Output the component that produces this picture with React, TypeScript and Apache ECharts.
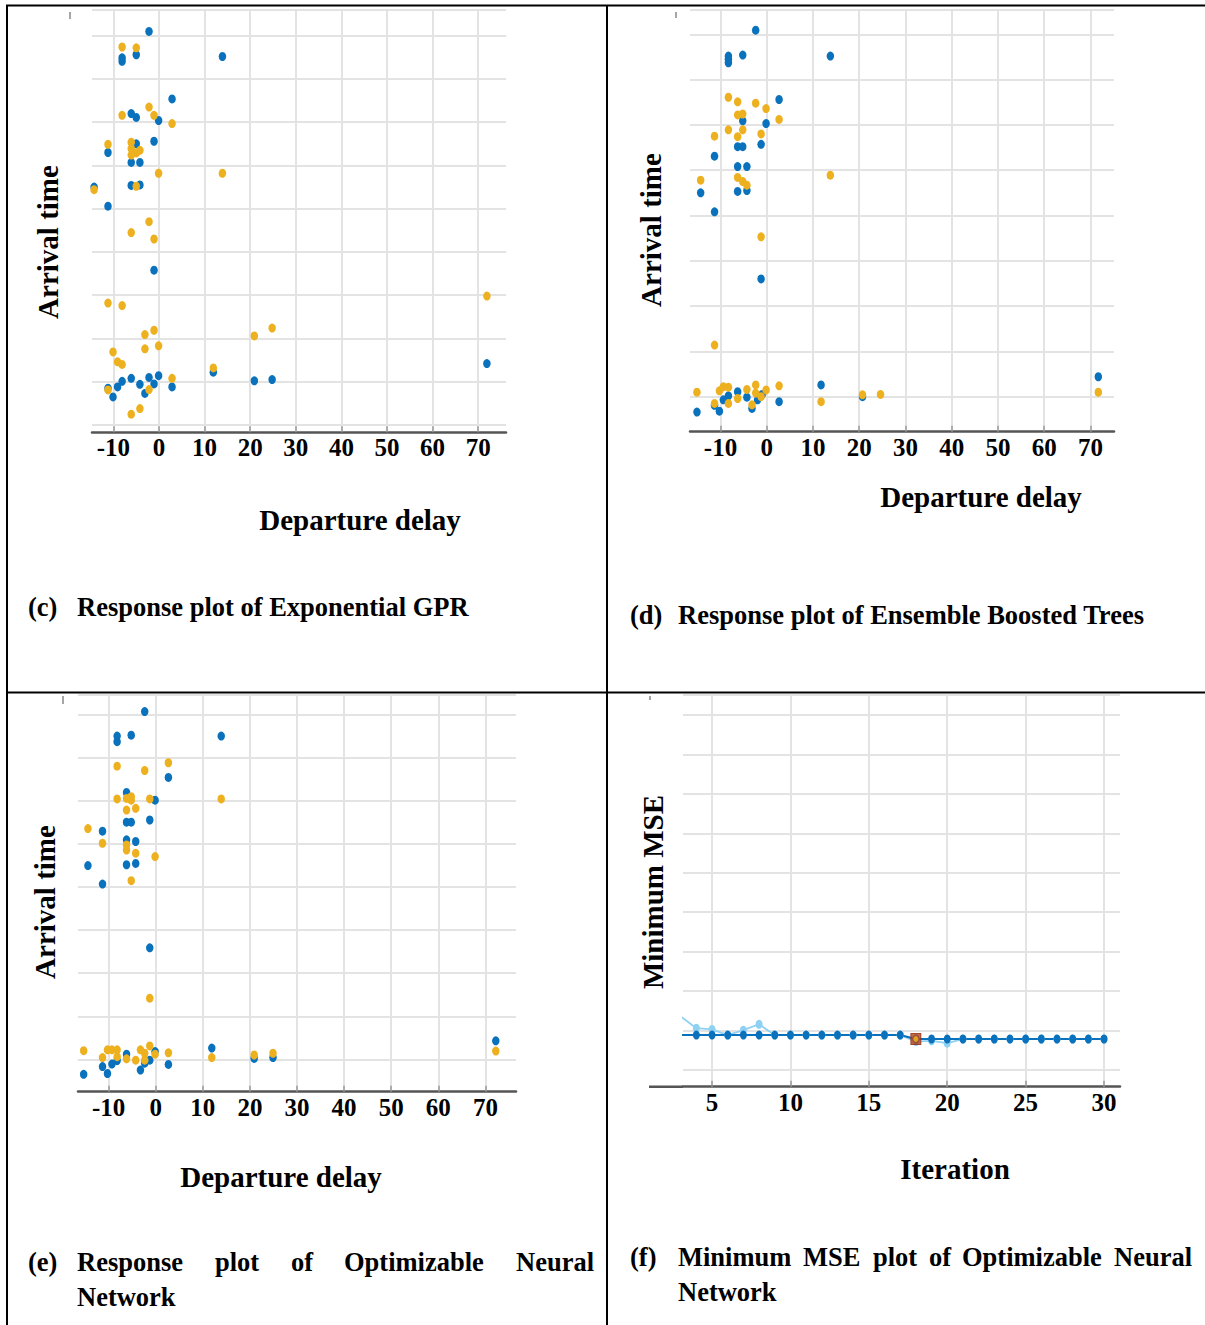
import React, { useEffect, useRef } from "react";
import * as echarts from "echarts";

// ---------------- DATA ----------------
// x tick labels (departure delay) and iteration ticks
const delayTicks = [-10, 0, 10, 20, 30, 40, 50, 60, 70];
const iterTicks = [5, 10, 15, 20, 25, 30];

// (c) Exponential GPR: [departure delay, arrival time (grid units)]
const gprTrue: number[][] = [
  [-2.2, 9.1], [-8.1, 8.49], [-8.1, 8.41], [-5.0, 8.56], [13.9, 8.52], [2.85, 7.54],
  [-6.1, 7.2], [-5.0, 7.11], [-0.1, 7.04], [-11.2, 6.3], [-5.0, 6.5], [-1.1, 6.56],
  [-6.1, 6.07], [-4.2, 6.07], [-14.25, 5.5], [-6.1, 5.54], [-4.2, 5.55], [-11.2, 5.06],
  [-1.1, 3.58], [11.9, 1.22], [71.9, 1.42], [20.9, 1.02], [24.8, 1.05], [-8.1, 1.01],
  [-9.1, 0.88], [-10.1, 0.65], [-11.2, 0.85], [-6.1, 1.08], [-4.2, 0.94], [-3.1, 0.73],
  [-2.2, 1.1], [-1.1, 0.95], [-0.1, 1.14], [2.85, 0.88], [-14.8, 0.64],
];
const gprPred: number[][] = [
  [-8.1, 8.74], [-5.0, 8.72], [-2.2, 7.35], [-8.1, 7.16], [-1.1, 7.16], [2.85, 6.97],
  [-11.2, 6.49], [-6.1, 6.54], [-6.1, 6.39], [-4.2, 6.35], [-5.0, 6.29], [-6.1, 6.24],
  [-0.1, 5.82], [13.9, 5.82], [-14.25, 5.44], [-5.0, 5.52], [-2.2, 4.7], [-6.1, 4.45],
  [-1.1, 4.3], [-11.2, 2.82], [-8.1, 2.76], [71.9, 2.98], [-1.1, 2.19], [-3.1, 2.09],
  [-3.1, 1.76], [-0.1, 1.83], [20.9, 2.06], [24.8, 2.24], [-10.1, 1.69], [-9.1, 1.46],
  [-8.1, 1.4], [-14.8, 1.37], [11.9, 1.32], [2.85, 1.08], [-2.2, 0.82], [-11.2, 0.81],
  [-6.1, 0.25], [-4.2, 0.38],
];

// (d) Ensemble Boosted Trees
const ebtTrue: number[][] = [
  [-2.4, 8.09], [-8.3, 7.52], [-8.3, 7.45], [-8.3, 7.37], [-5.2, 7.54], [13.75, 7.52],
  [2.66, 6.56], [-5.2, 6.09], [-0.15, 6.03], [-1.23, 5.57], [-6.3, 5.52], [-5.2, 5.52],
  [-11.3, 5.31], [-6.3, 5.08], [-4.3, 5.08], [-14.3, 4.5], [-6.3, 4.53], [-4.3, 4.55],
  [-11.3, 4.08], [-1.23, 2.6], [71.7, 0.44], [11.74, 0.26], [20.7, 0.0], [2.66, -0.11],
  [-15.1, -0.34], [-11.3, -0.19], [-10.25, -0.32], [-9.4, -0.07], [-8.3, 0.02], [-6.3, 0.11],
  [-4.3, -0.01], [-3.2, -0.26], [-2.0, -0.07], [-1.0, 0.05],
];
const ebtPred: number[][] = [
  [-8.3, 6.61], [-6.3, 6.51], [-2.4, 6.48], [-0.15, 6.36], [-6.3, 6.22], [-5.2, 6.24],
  [2.66, 6.12], [-8.3, 5.89], [-5.2, 5.89], [-6.3, 5.74], [-1.23, 5.8], [-11.3, 5.75],
  [-14.3, 4.78], [-6.3, 4.84], [-5.2, 4.75], [-4.3, 4.67], [13.75, 4.89], [-1.23, 3.53],
  [-11.3, 1.14], [71.7, 0.1], [11.74, -0.11], [20.7, 0.04], [24.6, 0.05], [2.66, 0.24],
  [-15.1, 0.1], [-11.3, -0.15], [-10.25, 0.13], [-9.4, 0.22], [-8.3, 0.21], [-8.3, -0.15],
  [-6.3, -0.04], [-4.3, 0.16], [-3.2, -0.18], [-2.4, 0.26], [-2.4, 0.08], [-1.23, 0.0],
  [-0.15, 0.15],
];

// (e) Optimizable Neural Network
const nnTrue: number[][] = [
  [-2.34, 8.08], [-8.2, 7.51], [-8.2, 7.38], [-5.2, 7.53], [13.9, 7.51], [2.69, 6.55],
  [-6.2, 6.2], [-0.14, 6.02], [-6.2, 5.51], [-5.2, 5.51], [-1.27, 5.56], [-11.3, 5.3],
  [-6.2, 5.1], [-4.25, 5.06], [-14.4, 4.5], [-6.2, 4.52], [-4.25, 4.55], [-11.3, 4.07],
  [-1.27, 2.59], [72.2, 0.43], [11.9, 0.26], [20.9, 0.02], [24.9, 0.04], [2.69, -0.12],
  [-15.3, -0.35], [-11.3, -0.17], [-10.25, -0.33], [-9.3, -0.11], [-8.2, -0.03], [-6.2, 0.12],
  [-3.25, -0.25], [-2.34, -0.09], [-1.27, -0.02], [-0.14, 0.18],
];
const nnPred: number[][] = [
  [2.69, 6.89], [-8.2, 6.81], [-2.34, 6.71], [-8.2, 6.05], [-6.2, 6.06], [-5.2, 6.1],
  [-5.2, 6.02], [-1.27, 6.05], [13.9, 6.05], [-6.2, 5.79], [-4.25, 5.83], [-14.4, 5.36],
  [-11.3, 5.02], [-6.2, 4.98], [-6.2, 4.86], [-4.25, 4.79], [-0.14, 4.71], [-5.2, 4.15],
  [-1.27, 1.42], [72.2, 0.19], [11.9, 0.04], [20.9, 0.1], [24.9, 0.14], [2.69, 0.15],
  [-15.3, 0.2], [-11.3, 0.04], [-10.25, 0.22], [-9.3, 0.22], [-8.2, 0.22], [-8.2, 0.06],
  [-6.2, 0.01], [-4.25, -0.02], [-3.25, 0.22], [-2.34, 0.14], [-2.34, -0.02], [-1.27, 0.31],
  [-0.14, 0.12],
];

// (f) Minimum MSE plot
const iterations = [3, 4, 5, 6, 7, 8, 9, 10, 11, 12, 13, 14, 15, 16, 17, 18, 19, 20, 21, 22, 23, 24, 25, 26, 27, 28, 29, 30];
const minObservedMSE = [
  0.887, 0.887, 0.887, 0.887, 0.887, 0.887, 0.887, 0.887, 0.887, 0.887, 0.887, 0.887, 0.887, 0.887, 0.887,
  0.786, 0.786, 0.786, 0.786, 0.786, 0.786, 0.786, 0.786, 0.786, 0.786, 0.786, 0.786, 0.786,
];
const estimatedMinMSE = [
  1.36, 1.06, 1.03, 0.887, 1.01, 1.16, 0.887, 0.887, 0.887, 0.887, 0.887, 0.887, 0.887, 0.887, 0.887,
  0.72, 0.74, 0.68, 0.786, 0.786, 0.786, 0.786, 0.786, 0.786, 0.786, 0.786, 0.786, 0.786,
];
const bestIteration = [18];
const bestMSE = [0.786];

// ---------------- STYLE ----------------
const SERIF = "'Liberation Serif', 'Times New Roman', Times, serif";
const BLUE = "#0a72bd";
const ORANGE = "#edb120";
const LIGHTBLUE = "#8fd1f3";
const GRIDC = "#e3e3e3";

function tickFormatter(allowed: number[]) {
  return (v: number) => {
    const r = Math.round(v);
    return Math.abs(v - r) < 1e-6 && allowed.indexOf(r) >= 0 ? String(r) : "";
  };
}

function makeX(gi: number, min: number, max: number, step: number, allowed: number[]) {
  return {
    type: "value",
    gridIndex: gi,
    min,
    max,
    minInterval: step,
    maxInterval: step,
    axisLine: { show: true, onZero: false, lineStyle: { color: "#555", width: 2.5 } },
    axisTick: { show: true, inside: true, length: 6, lineStyle: { color: "#9a9a9a", width: 1.5 } },
    axisLabel: {
      formatter: tickFormatter(allowed),
      showMinLabel: false,
      showMaxLabel: false,
      margin: 3,
      color: "#000",
      fontFamily: SERIF,
      fontWeight: "bold",
      fontSize: 25,
    },
    splitLine: { show: true, showMinLine: false, showMaxLine: false, lineStyle: { color: GRIDC, width: 2 } },
  };
}

function makeY(gi: number, min: number, max: number) {
  return {
    type: "value",
    gridIndex: gi,
    min,
    max,
    minInterval: 1,
    maxInterval: 1,
    axisLine: { show: false },
    axisTick: { show: false },
    axisLabel: { show: false },
    splitLine: { show: true, showMinLine: false, lineStyle: { color: GRIDC, width: 2 } },
  };
}

function scatter(gi: number, data: number[][], color: string) {
  return {
    type: "scatter",
    xAxisIndex: gi,
    yAxisIndex: gi,
    data,
    symbol: "circle",
    symbolSize: [7.5, 9],
    itemStyle: { color, opacity: 1 },
    silent: true,
  };
}

function txt(text: string, x: number, y: number, size: number, align = "left", rot = 0) {
  return {
    type: "text",
    x,
    y,
    rotation: rot,
    silent: true,
    style: {
      text,
      fill: "#000",
      fontFamily: SERIF,
      fontWeight: "bold",
      fontSize: size,
      align,
      verticalAlign: "middle",
    },
  };
}

function ln(x1: number, y1: number, x2: number, y2: number, w: number, c = "#000") {
  return { type: "line", silent: true, shape: { x1, y1, x2, y2 }, style: { stroke: c, lineWidth: w } };
}

export default function App() {
  const ref = useRef<HTMLDivElement>(null);

  useEffect(() => {
    if (!ref.current) return;
    const chart = echarts.init(ref.current, null, { renderer: "svg" });
    const CAP = 26.5;
    const TTL = 29;
    const option: any = {
      animation: false,
      backgroundColor: "#fff",
      grid: [
        { left: 92, top: 10, width: 414, height: 422.3, outerBoundsMode: "none" },
        { left: 690, top: 10, width: 424, height: 421.7, outerBoundsMode: "none" },
        { left: 78, top: 695, width: 438, height: 396.7, outerBoundsMode: "none" },
        { left: 683, top: 695, width: 437, height: 391.7, outerBoundsMode: "none" },
      ],
      xAxis: [
        makeX(0, -14.7, 76.1, 10, delayTicks),
        makeX(1, -16.6, 75.1, 10, delayTicks),
        makeX(2, -16.5, 76.5, 10, delayTicks),
        makeX(3, 3.15, 31.02, 5, iterTicks),
      ],
      yAxis: [
        makeY(0, -0.169, 9.595),
        makeY(1, -0.773, 8.536),
        makeY(2, -0.753, 8.464),
        makeY(3, -0.423, 9.508),
      ],
      series: [
        scatter(0, gprTrue, BLUE),
        scatter(0, gprPred, ORANGE),
        scatter(1, ebtTrue, BLUE),
        scatter(1, ebtPred, ORANGE),
        scatter(2, nnTrue, BLUE),
        scatter(2, nnPred, ORANGE),
        {
          type: "line",
          name: "Estimated min MSE",
          xAxisIndex: 3,
          yAxisIndex: 3,
          data: iterations.map((it, i) => [it, estimatedMinMSE[i]]),
          symbol: "circle",
          symbolSize: [7, 9],
          showAllSymbol: true,
          lineStyle: { color: LIGHTBLUE, width: 1.8 },
          itemStyle: { color: LIGHTBLUE },
          silent: true,
        },
        {
          type: "line",
          name: "Min observed MSE",
          xAxisIndex: 3,
          yAxisIndex: 3,
          data: iterations.map((it, i) =>
            i === 0 ? { value: [it, minObservedMSE[i]], symbol: "none" } : [it, minObservedMSE[i]]
          ),
          symbol: "circle",
          symbolSize: [7, 9],
          showAllSymbol: true,
          lineStyle: { color: BLUE, width: 2 },
          itemStyle: { color: BLUE },
          silent: true,
        },
        {
          type: "scatter",
          name: "Best point hyperparameters",
          xAxisIndex: 3,
          yAxisIndex: 3,
          data: bestIteration.map((it, i) => [it, bestMSE[i]]),
          symbol: "rect",
          symbolSize: [10, 11],
          itemStyle: { color: "#b8441c", borderColor: "#8a2a10", borderWidth: 1 },
          silent: true,
          z: 5,
        },
        {
          type: "scatter",
          name: "Minimum error hyperparameters",
          xAxisIndex: 3,
          yAxisIndex: 3,
          data: bestIteration.map((it, i) => [it, bestMSE[i]]),
          symbol: "circle",
          symbolSize: [5, 6],
          itemStyle: { color: "#f2b51c" },
          silent: true,
          z: 6,
        },
      ],
      graphic: [
        // table borders
        ln(6, 5.5, 1205, 5.5, 2),
        ln(7, 5, 7, 1325, 2),
        ln(607, 5, 607, 1325, 2),
        ln(6, 692.5, 1205, 692.5, 2),
        // small y-axis remnants
        ln(70, 12, 70, 19, 1.5, "#888"),
        ln(676, 12, 676, 18, 1.5, "#888"),
        ln(63, 696, 63, 704, 1.5, "#888"),
        ln(650, 696, 650, 700, 1.5, "#888"),
        // (f) axis line extension to the left
        ln(649, 1086.7, 683, 1086.7, 2.5, "#555"),
        // axis titles
        txt("Arrival time", 48, 242, TTL, "center", Math.PI / 2),
        txt("Departure delay", 360, 520, TTL, "center"),
        txt("Arrival time", 651, 230, TTL, "center", Math.PI / 2),
        txt("Departure delay", 981, 497, TTL, "center"),
        txt("Arrival time", 45, 902, TTL, "center", Math.PI / 2),
        txt("Departure delay", 281, 1177, TTL, "center"),
        txt("Minimum MSE", 653, 892, TTL, "center", Math.PI / 2),
        txt("Iteration", 955, 1169, TTL, "center"),
        // captions
        txt("(c)", 28, 607, CAP),
        txt("Response plot of Exponential GPR", 77, 607, CAP),
        txt("(d)", 630, 615, CAP),
        txt("Response plot of Ensemble Boosted Trees", 678, 615, CAP),
        txt("(e)", 28, 1262, CAP),
        txt("Response", 77, 1262, CAP),
        txt("plot", 215, 1262, CAP),
        txt("of", 291, 1262, CAP),
        txt("Optimizable", 344, 1262, CAP),
        txt("Neural", 516, 1262, CAP),
        txt("Network", 77, 1297, CAP),
        txt("(f)", 630, 1257, CAP),
        txt("Minimum", 678, 1257, CAP),
        txt("MSE", 803, 1257, CAP),
        txt("plot", 873, 1257, CAP),
        txt("of", 929, 1257, CAP),
        txt("Optimizable", 962, 1257, CAP),
        txt("Neural", 1114, 1257, CAP),
        txt("Network", 678, 1292, CAP),
      ],
    };
    chart.setOption(option);
    return () => chart.dispose();
  }, []);

  return (
    <div
      ref={ref}
      style={{ position: "absolute", left: 0, top: 0, width: 1205, height: 1325, background: "#fff" }}
    />
  );
}
